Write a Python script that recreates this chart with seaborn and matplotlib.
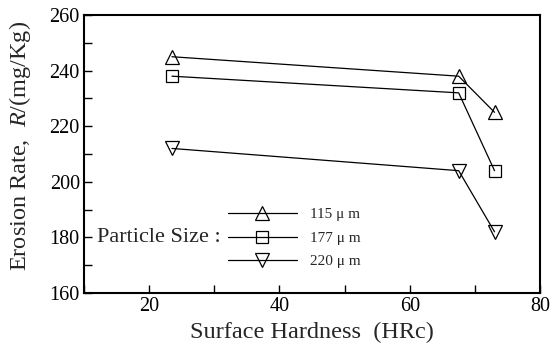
import pandas as pd
import matplotlib.pyplot as plt
import seaborn as sns
from matplotlib.ticker import MultipleLocator

# data
hardness = [23.5, 67.5, 73.0]
rate_115 = [245, 238, 225]
rate_177 = [238, 232, 204]
rate_220 = [212, 204, 182]
sizes = ['115 μ m', '177 μ m', '220 μ m']
markers = ['^', 's', 'v']

sns.set_style('ticks')
plt.rcParams['font.family'] = ['Liberation Serif', 'DejaVu Serif']
plt.rcParams['mathtext.fontset'] = 'custom'
plt.rcParams['mathtext.it'] = 'Liberation Serif:italic'
plt.rcParams['mathtext.rm'] = 'Liberation Serif'

fig, ax = plt.subplots(figsize=(5.58, 3.5), dpi=100)
fig.subplots_adjust(left=0.1505, right=0.968, top=0.957, bottom=0.163)

for vals, lab, mk in zip([rate_115, rate_177, rate_220], sizes, markers):
    df = pd.DataFrame({'x': hardness, 'y': vals})
    sns.lineplot(data=df, x='x', y='y', ax=ax, color='black', lw=0.9,
                 marker=mk, markersize=10 if mk != 's' else 8.5,
                 mfc='none', mec='black', mew=0.9, label=lab)

ax.set_xlim(10, 80)
ax.set_ylim(160, 260)
ax.xaxis.set_major_locator(MultipleLocator(20))
ax.xaxis.set_minor_locator(MultipleLocator(10))
ax.yaxis.set_major_locator(MultipleLocator(20))
ax.yaxis.set_minor_locator(MultipleLocator(10))
ax.tick_params(which='both', direction='in', top=False, right=False,
               labelsize=14.5, width=1, colors='black', pad=3)
ax.tick_params(which='major', length=6)
ax.tick_params(which='minor', length=6)
for s in ax.spines.values():
    s.set_linewidth(1.5)
    s.set_color('black')

ax.set_xlabel('Surface Hardness  (HRc)', fontsize=17.5, labelpad=4)
ax.set_ylabel('Erosion Rate,  $R$/(mg/Kg)', fontsize=17.5)
ax.yaxis.set_label_coords(-0.112, 0.53)

leg = ax.legend(frameon=False, loc='center left', fontsize=11,
                bbox_to_anchor=(228 / 558, 1 - 238 / 350),
                bbox_transform=fig.transFigure,
                handlelength=4.5, labelspacing=0.65, handletextpad=0.9,
                borderaxespad=0, borderpad=0)
fig.text(97 / 558, 1 - 238 / 350, 'Particle Size :', fontsize=16,
         va='center', ha='left')

fig.savefig('out.png', dpi=100)
